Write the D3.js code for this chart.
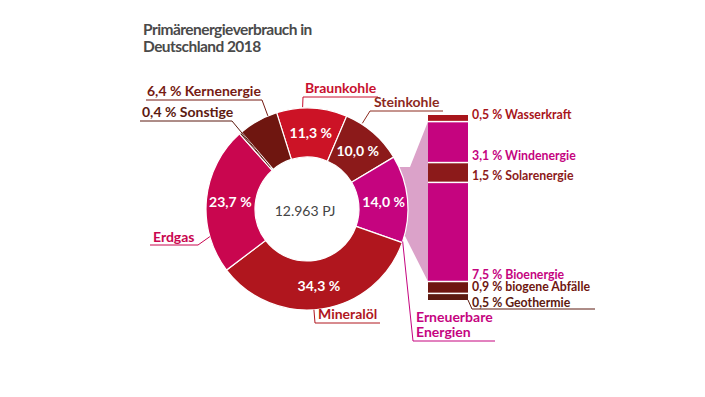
<!DOCTYPE html>
<html>
<head>
<meta charset="utf-8">
<script src="https://cdn.jsdelivr.net/npm/d3@7"></script>
<style>
  html, body { margin: 0; padding: 0; background: #fff; }
  svg { display: block; font-family: Lato, "Open Sans", sans-serif; }
</style>
</head>
<body>
<div id="chart"></div>
<script>
// Primaerenergieverbrauch 2018, Anteile in %
var sources = ["Braunkohle", "Steinkohle", "Erneuerbare Energien", "Mineralöl", "Erdgas", "Sonstige", "Kernenergie"];
var shares = [11.3, 10.0, 14.0, 34.3, 23.7, 0.4, 6.4];
var sourceColors = ["#cc1326", "#8c1a1a", "#c5047f", "#b0161e", "#c9064f", "#5c1a10", "#6f1610"];
var shareLabels = ["11,3 %", "10,0 %", "14,0 %", "34,3 %", "23,7 %", "", ""];
var total = "12.963 PJ";

var renewables = ["Wasserkraft", "Windenergie", "Solarenergie", "Bioenergie", "biogene Abfälle", "Geothermie"];
var renewableShares = [0.5, 3.1, 1.5, 7.5, 0.9, 0.5];
var renewableTexts = ["0,5 %", "3,1 %", "1,5 %", "7,5 %", "0,9 %", "0,5 %"];
var renewableColors = ["#a8151b", "#c5047f", "#8c1a1a", "#c5047f", "#6f1610", "#5c1a10"];

var width = 705, height = 397;
var cx = 307, cy = 209, rOuter = 101, rInner = 52;
var deg = Math.PI / 180;
var start = -17.5 * deg;

var svg = d3.select("#chart").append("svg")
    .attr("width", width)
    .attr("height", height);

// title
var title = svg.append("text")
    .attr("x", 143)
    .attr("y", 35)
    .style("font-size", "15.5px")
    .style("font-weight", "700")
    .style("letter-spacing", "-0.55px")
    .style("fill", "#4a4a4a");
title.append("tspan").attr("x", 143).text("Primärenergieverbrauch in");
title.append("tspan").attr("x", 143).attr("dy", 17).text("Deutschland 2018");

var pie = d3.pie().sort(null).startAngle(start).endAngle(start + 2 * Math.PI);
var arcs = pie(shares);

function pt(a, r) {
    return [cx + r * Math.sin(a), cy - r * Math.cos(a)];
}
function along(d, t) {
    return d.startAngle + t * (d.endAngle - d.startAngle);
}

// stacked bar for renewables
var barX = 428, barW = 40;
var y = d3.scaleLinear().domain([0, d3.sum(renewableShares)]).range([115, 300]);
var cum = d3.cumsum(renewableShares);

// funnel from slice to bar (left corners sit under the donut ring)
var fTop = 167, fBot = 236;
svg.append("polygon")
    .attr("points", [[395, fTop], [410, fTop], [barX, y(cum[0])], [barX, y(cum[3])], [405, fBot], [395, fBot]]
        .map(function (p) { return p.join(","); }).join(" "))
    .style("fill", "#dba2c9");

// donut
var arc = d3.arc().innerRadius(rInner).outerRadius(rOuter);
var g = svg.append("g").attr("transform", "translate(" + cx + "," + cy + ")");
g.selectAll("path.slice")
    .data(arcs)
    .enter().append("path")
    .attr("class", "slice")
    .attr("d", arc)
    .style("fill", function (d, i) { return sourceColors[i]; })
    .style("stroke", "#fff")
    .style("stroke-width", 1.2);

var labelArc = d3.arc().innerRadius(77).outerRadius(77);
g.selectAll("text.share")
    .data(arcs)
    .enter().append("text")
    .attr("class", "share")
    .attr("transform", function (d) { return "translate(" + labelArc.centroid(d) + ")"; })
    .attr("text-anchor", "middle")
    .attr("dominant-baseline", "central")
    .style("font-size", "14px")
    .style("font-weight", "700")
    .style("fill", "#fff")
    .text(function (d, i) { return shareLabels[i]; });

g.append("text")
    .attr("text-anchor", "middle")
    .attr("dominant-baseline", "central")
    .attr("x", -2)
    .attr("y", 1)
    .style("font-size", "14px")
    .style("fill", "#444")
    .text(total);

// callout labels: text lines, anchor x/baseline, underline span, joint, slice position
var callouts = [
    { i: 0, lines: ["Braunkohle"], x: 305, y: 93, u: [303, 378], uy: 97, joint: 303, t: 0.37, r: 102, color: "#c8102e" },
    { i: 1, lines: ["Steinkohle"], x: 374, y: 107, u: [370, 443], uy: 111, joint: 370, t: 0.27, r: 102, color: "#8c2a1e" },
    { i: 6, lines: ["6,4 % Kernenergie"], x: 147, y: 96, u: [146, 262], uy: 100, joint: 262, t: 0.77, r: 101, color: "#761a12" },
    { i: 5, lines: ["0,4 % Sonstige"], x: 142, y: 117, u: [140, 232], uy: 121, joint: 232, t: 0.5, r: 56, color: "#5c1a10" },
    { i: 4, lines: ["Erdgas"], x: 153, y: 242, u: [150, 198], uy: 245, joint: 198, t: 0.25, r: 101, color: "#c9064f" },
    { i: 3, lines: ["Mineralöl"], x: 318, y: 319, u: [315, 380], uy: 323, joint: 315, t: 0.54, r: 101, color: "#b0161e" },
    { i: 2, lines: ["Erneuerbare", "Energien"], x: 416, y: 322, u: [413, 495], uy: 341, joint: 413, t: 0.985, r: 101, color: "#c5047f" }
];

callouts.forEach(function (c) {
    var d = arcs[c.i];
    var end = pt(along(d, c.t), c.r);
    svg.append("line")
        .attr("x1", c.u[0]).attr("y1", c.uy)
        .attr("x2", c.u[1]).attr("y2", c.uy)
        .style("stroke", c.color).style("stroke-width", 1);
    svg.append("line")
        .attr("x1", c.joint).attr("y1", c.uy)
        .attr("x2", end[0]).attr("y2", end[1])
        .style("stroke", c.color).style("stroke-width", 1);
    var tx = svg.append("text")
        .attr("x", c.x).attr("y", c.y)
        .style("font-size", "14px")
        .style("font-weight", "700")
        .style("fill", c.color);
    c.lines.forEach(function (l, k) {
        tx.append("tspan").attr("x", c.x).attr("dy", k ? 15 : 0).text(l);
    });
});

// bar segments
var gap = 1.5;
svg.selectAll("rect.ren")
    .data(renewableShares)
    .enter().append("rect")
    .attr("class", "ren")
    .attr("x", barX)
    .attr("width", barW)
    .attr("y", function (d, i) { return y(cum[i] - d) + (i ? gap / 2 : 0); })
    .attr("height", function (d, i) {
        var h = y(cum[i]) - y(cum[i] - d);
        return h - (i ? gap / 2 : 0) - (i < renewableShares.length - 1 ? gap / 2 : 0);
    })
    .style("fill", function (d, i) { return renewableColors[i]; });

// bar labels
var last = renewableShares.length - 1;
svg.selectAll("text.ren")
    .data(renewables)
    .enter().append("text")
    .attr("class", "ren")
    .attr("x", 472)
    .attr("y", function (d, i) { return i === last ? y(cum[i]) + 7 : y(cum[i]) - 2.5; })
    .style("font-size", "12.3px")
    .style("font-weight", "700")
    .style("fill", function (d, i) { return renewableColors[i]; })
    .text(function (d, i) { return renewableTexts[i] + " " + d; });

// underline + leader for the last bar label
var gy = y(cum[last]) + 9;
svg.append("line")
    .attr("x1", 472).attr("y1", gy).attr("x2", 595).attr("y2", gy)
    .style("stroke", renewableColors[last]).style("stroke-width", 1);
svg.append("line")
    .attr("x1", 472).attr("y1", gy).attr("x2", barX + barW).attr("y2", y(cum[last]))
    .style("stroke", renewableColors[last]).style("stroke-width", 1);
</script>
</body>
</html>
